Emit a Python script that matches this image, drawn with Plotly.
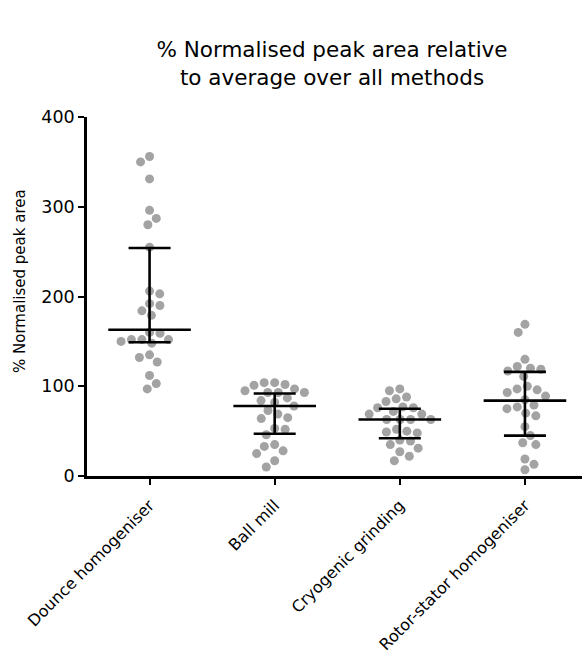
import math
import plotly.graph_objects as go

categories = ["Dounce homogeniser", "Ball mill", "Cryogenic grinding", "Rotor-stator homogeniser"]

dounce = [356, 350, 331, 296, 287, 280, 255, 206, 203, 192, 190, 184, 179, 160, 159,
          152, 152, 152, 150, 148, 135, 132, 127, 112, 103, 97]
ball_mill = [104, 104, 102, 101, 97, 95, 93, 93, 93, 87, 84, 82, 78, 73, 69, 65, 64,
             53, 52, 46, 35, 33, 28, 25, 17, 10]
cryogenic = [97, 95, 88, 86, 83, 77, 76, 76, 72, 69, 69, 63, 63, 63, 63, 52, 50, 49,
             48, 40, 39, 35, 31, 27, 22, 17]
rotor_stator = [169, 160, 130, 122, 120, 119, 117, 111, 100, 97, 96, 93, 89, 85, 79,
                77, 75, 70, 67, 55, 45, 37, 35, 19, 13, 7]
series = [dounce, ball_mill, cryogenic, rotor_stator]

medians = [163, 78, 63, 84]
upper = [254, 92, 75, 116]
lower = [149, 47, 42, 45]

# layout geometry
W, H = 582, 654
ml, mr, mt, mb = 87, 0, 117, 178
x_range = [-0.5, 3.456]
y_range = [0, 400]
px_per_x = (W - ml - mr) / (x_range[1] - x_range[0])
px_per_y = (H - mt - mb) / (y_range[1] - y_range[0])


def beeswarm(vals, d=10.5):
    order = sorted(range(len(vals)), key=lambda i: -vals[i])
    placed = []  # (xpx, ypx)
    offs = [0.0] * len(vals)
    for k, i in enumerate(order):
        y = vals[i] * px_per_y
        cands = [0.0]
        for (px, py) in placed:
            dy = abs(py - y)
            if dy < d:
                dx = math.sqrt(d * d - dy * dy)
                cands += [px + dx + 0.01, px - dx - 0.01]
        ok = []
        for c in cands:
            if all((c - px) ** 2 + (y - py) ** 2 >= d * d - 0.05 for (px, py) in placed):
                ok.append(c)
        ok.sort(key=lambda c: (round(abs(c), 3), c if k % 2 else -c))
        c = ok[0]
        placed.append((c, y))
        offs[i] = c / px_per_x
    return offs


fig = go.Figure()
for ci, vals in enumerate(series):
    offs = beeswarm(vals)
    fig.add_trace(go.Scatter(
        x=[ci + o for o in offs], y=vals, mode="markers",
        marker=dict(color="#a3a3a3", size=9, line=dict(width=0)),
        cliponaxis=False, showlegend=False, hoverinfo="y"))

fig.add_trace(go.Scatter(
    x=list(range(len(categories))), y=medians, mode="markers",
    marker=dict(symbol="line-ew-open", size=59, color="black",
                line=dict(color="black", width=2.6)),
    error_y=dict(type="data", symmetric=False,
                 array=[u - m for u, m in zip(upper, medians)],
                 arrayminus=[m - l for m, l in zip(medians, lower)],
                 color="black", thickness=2.6, width=21),
    cliponaxis=False, showlegend=False))

fig.update_layout(
    width=W, height=H,
    margin=dict(l=ml, r=mr, t=mt, b=mb, autoexpand=False),
    paper_bgcolor="white", plot_bgcolor="white",
    font=dict(family="DejaVu Sans", color="black"),
    title=dict(text="% Normalised peak area relative<br>to average over all methods",
               x=(332 - ml) / (W - ml - mr), xref="paper", xanchor="center",
               y=1 - 57 / H, yref="container", yanchor="middle",
               font=dict(size=21.5, color="black")),
    xaxis=dict(range=x_range, tickmode="array", tickvals=list(range(len(categories))),
               ticktext=categories, tickangle=-45, showgrid=False, zeroline=False,
               showline=True, linecolor="black", linewidth=2.6,
               ticks="outside", ticklen=6, tickwidth=2.2, tickcolor="black",
               ticklabelstandoff=5, tickfont=dict(size=16)),
    yaxis=dict(range=y_range, tickvals=[0, 100, 200, 300, 400], showgrid=False,
               zeroline=False, showline=True, linecolor="black", linewidth=2.6,
               ticks="outside", ticklen=6, tickwidth=2.2, tickcolor="black",
               tickfont=dict(size=17.5)),
    annotations=[dict(text="% Normalised peak area", textangle=-90,
                      xref="paper", yref="paper", x=(20 - ml) / (W - ml - mr),
                      y=(H - mb - 281) / (H - mt - mb), xanchor="center", yanchor="middle",
                      showarrow=False, font=dict(size=15, color="black"))],
)

fig.write_html("out.html", config={"displayModeBar": False},
               post_script="document.body.style.margin='0';document.body.style.overflow='hidden';")
